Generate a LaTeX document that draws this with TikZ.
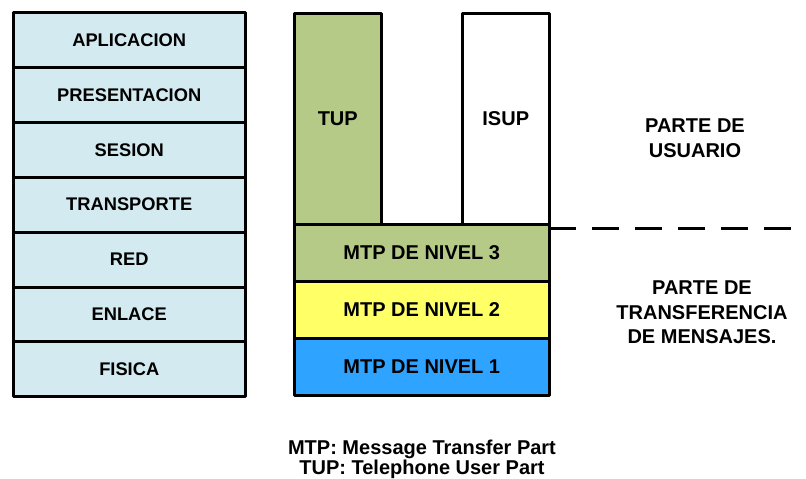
\documentclass[tikz,border=0pt]{standalone}
\usepackage{fontspec}
\setmainfont{Liberation Sans}
\definecolor{osiblue}{HTML}{D3EAF0}
\definecolor{olive}{HTML}{B6CA87}
\definecolor{mtpyellow}{HTML}{FFFF66}
\definecolor{mtpblue}{HTML}{2EA3FF}
\begin{document}
\begin{tikzpicture}[x=1pt,y=-1pt,
  layer/.style={draw=black, line width=3pt, line join=round, inner sep=0pt, outer sep=0pt, font=\bfseries\fontsize{20}{24}\selectfont},
  osi/.style={layer, fill=osiblue, minimum width=231.5pt, minimum height=54.9pt, font=\bfseries\fontsize{18.3}{22}\selectfont},
  mtp/.style={layer, minimum width=254.5pt, minimum height=57pt},
  user/.style={layer, minimum width=86.5pt, minimum height=211.5pt},
  note/.style={align=center, font=\bfseries\fontsize{20}{24.5}\selectfont, inner sep=0pt},
  sep/.style={line width=3pt, dash pattern=on 27pt off 16pt}]
\useasboundingbox (0,0) rectangle (806,479);
% OSI stack
\node[osi] (apl) at (129.25,39.95) {APLICACION};
\node[osi] (pre) at (129.25,94.85) {PRESENTACION};
\node[osi] (ses) at (129.25,149.75) {SESION};
\node[osi] (tra) at (129.25,204.65) {TRANSPORTE};
\node[osi] (red) at (129.25,259.55) {RED};
\node[osi] (enl) at (129.25,314.45) {ENLACE};
\node[osi] (fis) at (129.25,369.35) {FISICA};
% SS7 stack
\node[user, fill=olive] (tup) at (337.75,118.75) {TUP};
\node[user, fill=white] (isup) at (505.75,118.75) {ISUP};
\node[mtp, fill=olive] (m3) at (421.75,253) {MTP DE NIVEL 3};
\node[mtp, fill=mtpyellow] (m2) at (421.75,310) {MTP DE NIVEL 2};
\node[mtp, fill=mtpblue] (m1) at (421.75,367) {MTP DE NIVEL 1};
% separator
\coordinate (sepend) at (806,228.5);
\draw[sep] (m3.north east |- sepend) -- (sepend);
% labels
\node[note] (pu) at (695,138) {PARTE DE\\USUARIO};
\node[note] (ptm) at (702,312.5) {PARTE DE\\TRANSFERENCIA\\DE MENSAJES.};
\node[note, font=\bfseries\fontsize{20}{19.5}\selectfont] (leg) at (422,459.5) {MTP: Message Transfer Part\\TUP: Telephone User Part};
\end{tikzpicture}
\end{document}
